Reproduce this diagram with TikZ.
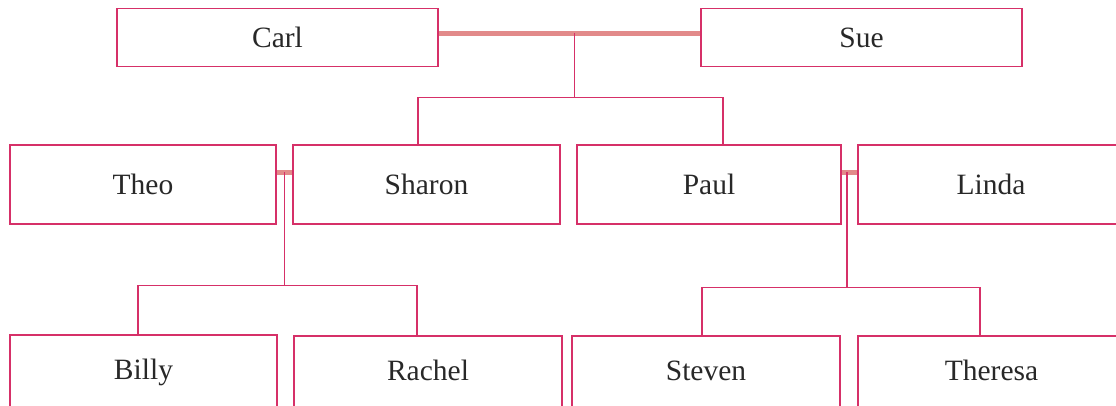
\documentclass[tikz,border=0pt]{standalone}
\usepackage{fontspec}
\setmainfont{Liberation Serif}
\usetikzlibrary{calc}

\definecolor{boxline}{RGB}{214,48,104}
\definecolor{wedline}{RGB}{226,138,138}
\definecolor{namecol}{RGB}{40,40,40}

\begin{document}
\begin{tikzpicture}[x=1pt,y=-1pt,
    kid/.style={draw=boxline,line width=1.5pt},
    wed/.style={draw=wedline,line width=5.5pt}]

      \clip (0,0) rectangle (1116,406);

      \begin{scope}[every node/.style={rectangle,draw=boxline,line width=1.5pt,
          minimum height=79pt,inner sep=0pt,text height=20pt,text depth=0pt,
          text=namecol,font=\fontsize{29.5}{32}\selectfont}]
        \node[minimum width=321pt,minimum height=58pt] (carl) at (277.5,37.5) {Carl};
        \node[minimum width=321pt,minimum height=58pt] (sue)  at (861.5,37.5) {Sue};

        \node[minimum width=266pt] (theo)   at (143,184.5)   {Theo};
        \node[minimum width=267pt] (sharon) at (426.5,184.5) {Sharon};
        \node[minimum width=264pt] (paul)   at (709,184.5)   {Paul};
        \node[minimum width=266pt] (linda)  at (991,184.5)   {Linda};

        \node[minimum width=267pt,text depth=11pt] (billy)   at (143.5,374.5) {Billy};
        \node[minimum width=268pt,text depth=11pt] (rachel)  at (428,375.5)   {Rachel};
        \node[minimum width=268pt,text depth=11pt] (steven)  at (706,375.5)   {Steven};
        \node[minimum width=267pt,text depth=11pt] (theresa) at (991.5,375.5) {Theresa};
      \end{scope}

      \begin{scope}
        % Carl and Sue
        \path[wed] ([yshift=4pt]carl.east) -- ([yshift=4pt]sue.west)
          coordinate[pos=0.52] (cs);
        \draw[kid] (cs) -- ++(0,64) coordinate (csbar);
        \draw[kid] ([xshift=-8.5pt]sharon.north) |- (csbar) -| ([xshift=14pt]paul.north);

        % Theo and Sharon
        \path[wed] ([yshift=12pt]theo.east) -- ([yshift=12pt]sharon.west)
          coordinate[midway] (ts);
        \draw[kid] (ts) -- ++(0,113) coordinate (tsbar);
        \draw[kid] ([xshift=-5.5pt]billy.north) |- (tsbar) -| ([xshift=-11pt]rachel.north);

        % Paul and Linda
        \path[wed] ([yshift=12pt]paul.east) -- ([yshift=12pt]linda.west)
          coordinate[pos=0.35] (pl);
        \draw[kid] (pl) -- ++(0,115) coordinate (plbar);
        \draw[kid] ([xshift=-4pt]steven.north) |- (plbar) -| ([xshift=-11.5pt]theresa.north);
      \end{scope}

    \end{tikzpicture}
\end{document}
